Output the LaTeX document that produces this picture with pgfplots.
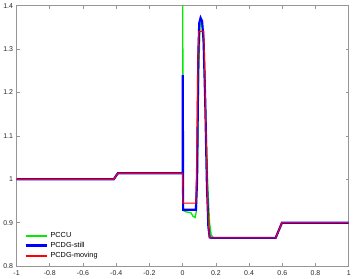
\documentclass[border=0pt]{standalone}
\usepackage{pgfplots}
\pgfplotsset{compat=1.18}
\usepackage{fontspec}
\setmainfont{Liberation Sans}
\definecolor{axgray}{RGB}{150,150,150}
\definecolor{pgreen}{RGB}{0,235,0}
\definecolor{pblue}{RGB}{0,0,255}
\definecolor{mred}{RGB}{255,0,0}
\begin{document}
\begin{tikzpicture}
\begin{axis}[
  scale only axis, width=333pt, height=261pt,
  xmin=-1, xmax=1, ymin=0.8, ymax=1.4,
  xtick={-1,-0.8,-0.6,-0.4,-0.2,0,0.2,0.4,0.6,0.8,1},
  ytick={0.8,0.9,1,1.1,1.2,1.3,1.4},
  xticklabels={-1,-0.8,-0.6,-0.4,-0.2,0,0.2,0.4,0.6,0.8,1},
  yticklabels={0.8,0.9,1,1.1,1.2,1.3,1.4},
  tick align=inside, tick pos=both,
  major tick length=3pt,
  axis line style={axgray, line width=0.8pt},
  tick style={axgray, line width=0.6pt},
  ticklabel style={font=\fontsize{7}{8}\selectfont, text=black!85},
  xticklabel style={yshift=-1pt},
  legend style={draw=none, fill=none, at={(0.02,0.015)}, anchor=south west,
    font=\fontsize{7.3}{8}\selectfont, row sep=-0.8pt, inner sep=1pt},
  legend cell align=left,
]
\addlegendimage{legend image code/.code={\draw[draw=pgreen, line width=1.6pt] (0pt,0pt) -- (22pt,0pt);}}
\addlegendentry{PCCU}
\addlegendimage{legend image code/.code={\draw[draw=pblue, line width=2.3pt] (0pt,0pt) -- (22pt,0pt);}}
\addlegendentry{PCDG-still}
\addlegendimage{legend image code/.code={\draw[draw=mred, line width=1.9pt] (0pt,0pt) -- (22pt,0pt);}}
\addlegendentry{PCDG-moving}
\addplot[pgreen, line width=1.3pt, forget plot] coordinates {
(-1,1.0) (-0.415,1.0) (-0.39,1.014) (0,1.014) (0.0005,1.4) (0.004,0.928)
(0.02,0.925) (0.05,0.923) (0.062,0.915) (0.075,0.912) (0.082,0.925)
(0.09,1.05) (0.097,1.25) (0.105,1.355) (0.113,1.365) (0.122,1.34)
(0.132,1.25) (0.142,1.1) (0.152,0.98) (0.162,0.9) (0.172,0.872) (0.185,0.865)
(0.56,0.865) (0.598,0.9) (1,0.9)};
\addplot[pblue, line width=2.2pt, forget plot] coordinates {
(-1,1.0) (-0.415,1.0) (-0.39,1.014) (0,1.014) (0.0005,1.24) (0.003,0.93)
(0.08,0.93) (0.087,1.0) (0.094,1.28) (0.1,1.36) (0.108,1.372) (0.117,1.365)
(0.126,1.32) (0.136,1.18) (0.146,0.99) (0.155,0.89) (0.163,0.866) (0.175,0.865)
(0.56,0.865) (0.598,0.9) (1,0.9)};
\addplot[mred, line width=1.1pt, forget plot] coordinates {
(-1,1.0) (-0.415,1.0) (-0.39,1.014) (0,1.014) (0.002,0.945)
(0.08,0.945) (0.087,1.1) (0.093,1.3) (0.097,1.341) (0.127,1.341) (0.133,1.25)
(0.142,1.08) (0.152,0.93) (0.16,0.868) (0.17,0.865)
(0.56,0.865) (0.598,0.9) (1,0.9)};
\end{axis}
\end{tikzpicture}
\end{document}
